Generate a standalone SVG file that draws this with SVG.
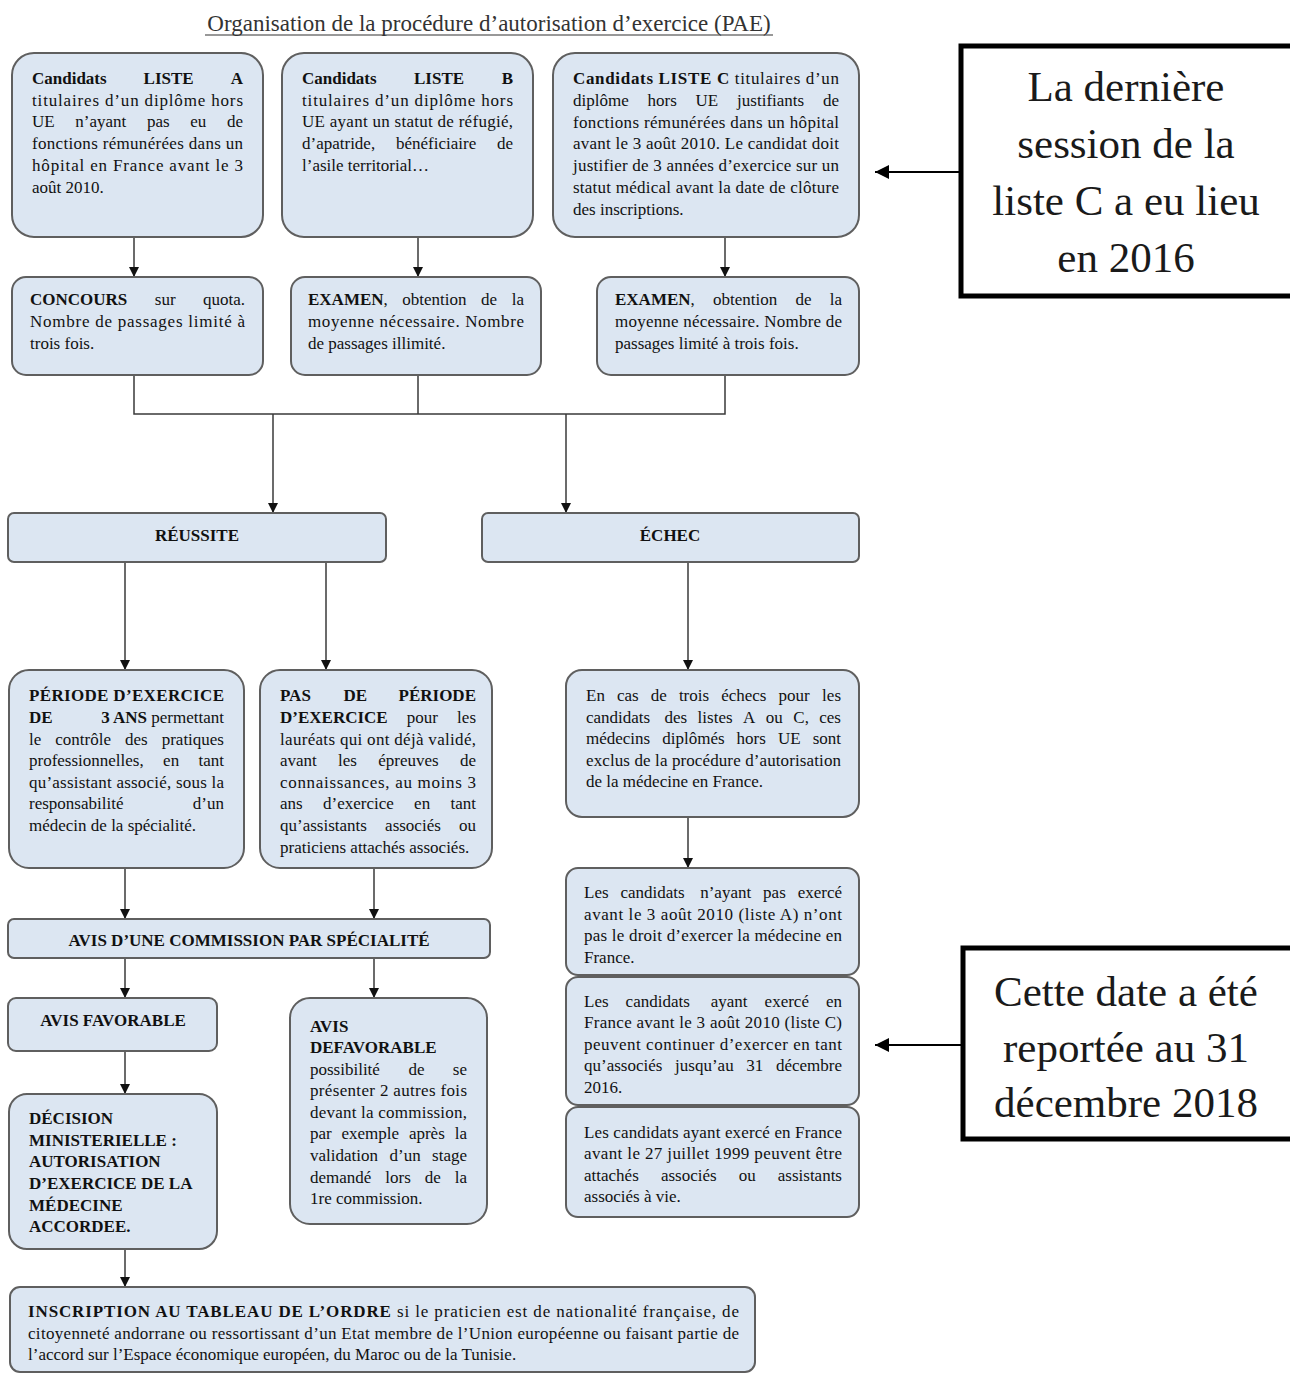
<svg xmlns="http://www.w3.org/2000/svg" width="1290" height="1374" viewBox="0 0 1290 1374">
<defs>
<style>
.box{fill:#dce6f2;stroke:#5f5f5f;stroke-width:2}
.t{font-family:"Liberation Serif","Times New Roman",serif;font-size:17px;fill:#111}
.b{font-weight:bold}
.c{text-anchor:middle}
.conn{stroke:#3a3a3a;stroke-width:1.5;fill:none}
.call{fill:#fff;stroke:#000;stroke-width:5}
.ct{font-family:"Liberation Serif","Times New Roman",serif;font-size:43px;fill:#1a1a1a;text-anchor:middle}
.carrow{stroke:#000;stroke-width:2;fill:none}
</style>
<marker id="ah" viewBox="0 0 10 10" refX="10" refY="5" markerWidth="10" markerHeight="12" markerUnits="userSpaceOnUse" orient="auto"><path d="M0,0 L10,5 L0,10 z" fill="#111"/></marker>
<marker id="ahc" viewBox="0 0 10 10" refX="10" refY="5" markerWidth="16" markerHeight="14" markerUnits="userSpaceOnUse" orient="auto"><path d="M0,0 L10,5 L0,10 z" fill="#000"/></marker>
</defs>
<rect width="1290" height="1374" fill="#fff"/>

<g id="title">
<text x="489" y="31" font-family="Liberation Serif, Times New Roman, serif" font-size="23" fill="#333" text-anchor="middle">Organisation de la procédure d’autorisation d’exercice (PAE)</text>
<line x1="205" y1="35" x2="773" y2="35" stroke="#333" stroke-width="1.2"/>
</g>

<g id="connectors">
<line class="conn" x1="134" y1="237" x2="134" y2="277" marker-end="url(#ah)"/>
<line class="conn" x1="418" y1="237" x2="418" y2="277" marker-end="url(#ah)"/>
<line class="conn" x1="725" y1="237" x2="725" y2="277" marker-end="url(#ah)"/>
<path class="conn" d="M134,375 V414 H725 V375 M418,375 V414"/>
<line class="conn" x1="273" y1="414" x2="273" y2="513" marker-end="url(#ah)"/>
<line class="conn" x1="566" y1="414" x2="566" y2="513" marker-end="url(#ah)"/>
<line class="conn" x1="125" y1="562" x2="125" y2="670" marker-end="url(#ah)"/>
<line class="conn" x1="326" y1="562" x2="326" y2="670" marker-end="url(#ah)"/>
<line class="conn" x1="688" y1="562" x2="688" y2="670" marker-end="url(#ah)"/>
<line class="conn" x1="688" y1="817" x2="688" y2="868" marker-end="url(#ah)"/>
<line class="conn" x1="125" y1="868" x2="125" y2="919" marker-end="url(#ah)"/>
<line class="conn" x1="374" y1="868" x2="374" y2="919" marker-end="url(#ah)"/>
<line class="conn" x1="125" y1="958" x2="125" y2="998" marker-end="url(#ah)"/>
<line class="conn" x1="374" y1="958" x2="374" y2="998" marker-end="url(#ah)"/>
<line class="conn" x1="125" y1="1051" x2="125" y2="1094" marker-end="url(#ah)"/>
<line class="conn" x1="125" y1="1249" x2="125" y2="1287" marker-end="url(#ah)"/>
<line class="carrow" x1="960" y1="172" x2="875" y2="172" marker-end="url(#ahc)"/>
<line class="carrow" x1="962" y1="1045" x2="875" y2="1045" marker-end="url(#ahc)"/>
</g>

<g id="listeA">
<rect class="box" x="12" y="53" width="251" height="184" rx="22"/>
<text class="t b" y="84"><tspan x="32">Candidats</tspan><tspan x="143.6">LISTE</tspan><tspan x="243" text-anchor="end">A</tspan></text>
<text class="t" x="32" y="106" textLength="211" lengthAdjust="spacing">titulaires d’un diplôme hors</text>
<text class="t" y="127"><tspan x="32">UE</tspan><tspan x="75.3">n’ayant</tspan><tspan x="147">pas</tspan><tspan x="190.3">eu</tspan><tspan x="243" text-anchor="end">de</tspan></text>
<text class="t" x="32" y="149" textLength="211" lengthAdjust="spacing">fonctions rémunérées dans un</text>
<text class="t" x="32" y="171" textLength="211" lengthAdjust="spacing">hôpital en France avant le 3</text>
<text class="t" x="32" y="193">août 2010.</text>
</g>

<g id="listeB">
<rect class="box" x="282" y="53" width="251" height="184" rx="22"/>
<text class="t b" y="84"><tspan x="302">Candidats</tspan><tspan x="414">LISTE</tspan><tspan x="513" text-anchor="end">B</tspan></text>
<text class="t" x="302" y="106" textLength="211" lengthAdjust="spacing">titulaires d’un diplôme hors</text>
<text class="t" x="302" y="127" textLength="211" lengthAdjust="spacing">UE ayant un statut de réfugié,</text>
<text class="t" y="149"><tspan x="302">d’apatride,</tspan><tspan x="396">bénéficiaire</tspan><tspan x="513" text-anchor="end">de</tspan></text>
<text class="t" x="302" y="171">l’asile territorial…</text>
</g>

<g id="listeC">
<rect class="box" x="553" y="53" width="306" height="184" rx="22"/>
<text class="t" x="573" y="84" textLength="266" lengthAdjust="spacing"><tspan class="b">Candidats LISTE C</tspan> titulaires d’un</text>
<text class="t" y="106"><tspan x="573">diplôme</tspan><tspan x="647.5">hors</tspan><tspan x="695.6">UE</tspan><tspan x="737.1">justifiants</tspan><tspan x="839" text-anchor="end">de</tspan></text>
<text class="t" x="573" y="128" textLength="266" lengthAdjust="spacing">fonctions rémunérées dans un hôpital</text>
<text class="t" x="573" y="149" textLength="266" lengthAdjust="spacing">avant le 3 août 2010. Le candidat doit</text>
<text class="t" x="573" y="171" textLength="266" lengthAdjust="spacing">justifier de 3 années d’exercice sur un</text>
<text class="t" x="573" y="193" textLength="266" lengthAdjust="spacing">statut médical avant la date de clôture</text>
<text class="t" x="573" y="215">des inscriptions.</text>
</g>

<g id="concours">
<rect class="box" x="12" y="277" width="251" height="98" rx="14"/>
<text class="t" y="305"><tspan x="30" class="b">CONCOURS</tspan><tspan x="154.8">sur</tspan><tspan x="245" text-anchor="end">quota.</tspan></text>
<text class="t" x="30" y="327" textLength="215" lengthAdjust="spacing">Nombre de passages limité à</text>
<text class="t" x="30" y="349">trois fois.</text>
</g>

<g id="examenB">
<rect class="box" x="291" y="277" width="250" height="98" rx="14"/>
<text class="t" y="305"><tspan x="308"><tspan class="b">EXAMEN</tspan>,</tspan><tspan x="402.3">obtention</tspan><tspan x="481.1">de</tspan><tspan x="524" text-anchor="end">la</tspan></text>
<text class="t" x="308" y="327" textLength="216" lengthAdjust="spacing">moyenne nécessaire. Nombre</text>
<text class="t" x="308" y="349">de passages illimité.</text>
</g>

<g id="examenC">
<rect class="box" x="597" y="277" width="262" height="98" rx="14"/>
<text class="t" y="305"><tspan x="615"><tspan class="b">EXAMEN</tspan>,</tspan><tspan x="713">obtention</tspan><tspan x="795.5">de</tspan><tspan x="842" text-anchor="end">la</tspan></text>
<text class="t" x="615" y="327" textLength="227" lengthAdjust="spacing">moyenne nécessaire. Nombre de</text>
<text class="t" x="615" y="349">passages limité à trois fois.</text>
</g>

<g id="reussite">
<rect class="box" x="8" y="513" width="378" height="49" rx="6"/>
<text class="t b c" x="197" y="541">RÉUSSITE</text>
</g>

<g id="echec">
<rect class="box" x="482" y="513" width="377" height="49" rx="6"/>
<text class="t b c" x="670" y="541">ÉCHEC</text>
</g>

<g id="periode">
<rect class="box" x="9" y="670" width="235" height="198" rx="20"/>
<text class="t b" x="29" y="701" textLength="195" lengthAdjust="spacing">PÉRIODE D’EXERCICE</text>
<text class="t" y="723"><tspan x="29" class="b">DE</tspan><tspan x="224" text-anchor="end"><tspan class="b">3 ANS</tspan> permettant</tspan></text>
<text class="t" y="745"><tspan x="29">le</tspan><tspan x="55.3">contrôle</tspan><tspan x="125">des</tspan><tspan x="224" text-anchor="end">pratiques</tspan></text>
<text class="t" y="766"><tspan x="29">professionnelles,</tspan><tspan x="163.1">en</tspan><tspan x="224" text-anchor="end">tant</tspan></text>
<text class="t" x="29" y="788" textLength="195" lengthAdjust="spacing">qu’assistant associé, sous la</text>
<text class="t" y="809"><tspan x="29">responsabilité</tspan><tspan x="224" text-anchor="end">d’un</tspan></text>
<text class="t" x="29" y="831">médecin de la spécialité.</text>
</g>

<g id="pasPeriode">
<rect class="box" x="260" y="670" width="232" height="198" rx="20"/>
<text class="t b" y="701"><tspan x="280">PAS</tspan><tspan x="343.5">DE</tspan><tspan x="476" text-anchor="end">PÉRIODE</tspan></text>
<text class="t" y="723"><tspan x="280" class="b">D’EXERCICE</tspan><tspan x="406.8">pour</tspan><tspan x="476" text-anchor="end">les</tspan></text>
<text class="t" x="280" y="745" textLength="196" lengthAdjust="spacing">lauréats qui ont déjà validé,</text>
<text class="t" y="766"><tspan x="280">avant</tspan><tspan x="338.1">les</tspan><tspan x="378.3">épreuves</tspan><tspan x="476" text-anchor="end">de</tspan></text>
<text class="t" x="280" y="788" textLength="196" lengthAdjust="spacing">connaissances, au moins 3</text>
<text class="t" y="809"><tspan x="280">ans</tspan><tspan x="323">d’exercice</tspan><tspan x="414.1">en</tspan><tspan x="476" text-anchor="end">tant</tspan></text>
<text class="t" y="831"><tspan x="280">qu’assistants</tspan><tspan x="385.1">associés</tspan><tspan x="476" text-anchor="end">ou</tspan></text>
<text class="t" x="280" y="853">praticiens attachés associés.</text>
</g>

<g id="enCas">
<rect class="box" x="566" y="670" width="293" height="147" rx="16"/>
<text class="t" y="701"><tspan x="586">En</tspan><tspan x="617">cas</tspan><tspan x="650.8">de</tspan><tspan x="678.9">trois</tspan><tspan x="721.2">échecs</tspan><tspan x="778.6">pour</tspan><tspan x="841" text-anchor="end">les</tspan></text>
<text class="t" y="723"><tspan x="586">candidats</tspan><tspan x="664.5">des</tspan><tspan x="697.6">listes</tspan><tspan x="743.1">A</tspan><tspan x="765.8">ou</tspan><tspan x="793.3">C,</tspan><tspan x="841" text-anchor="end">ces</tspan></text>
<text class="t" y="744"><tspan x="586">médecins</tspan><tspan x="662.3">diplômés</tspan><tspan x="736.6">hors</tspan><tspan x="778">UE</tspan><tspan x="841" text-anchor="end">sont</tspan></text>
<text class="t" x="586" y="766" textLength="255" lengthAdjust="spacing">exclus de la procédure d’autorisation</text>
<text class="t" x="586" y="787">de la médecine en France.</text>
</g>

<g id="listeAexclus">
<rect class="box" x="566" y="868" width="293" height="107" rx="12"/>
<text class="t" y="898"><tspan x="584">Les</tspan><tspan x="620.4">candidats</tspan><tspan x="700.2">n’ayant</tspan><tspan x="763.1">pas</tspan><tspan x="842" text-anchor="end">exercé</tspan></text>
<text class="t" x="584" y="920" textLength="258" lengthAdjust="spacing">avant le 3 août 2010 (liste A) n’ont</text>
<text class="t" x="584" y="941" textLength="258" lengthAdjust="spacing">pas le droit d’exercer la médecine en</text>
<text class="t" x="584" y="963">France.</text>
</g>

<g id="listeCcontinuer">
<rect class="box" x="566" y="977" width="293" height="128" rx="12"/>
<text class="t" y="1007"><tspan x="584">Les</tspan><tspan x="625.6">candidats</tspan><tspan x="710.7">ayant</tspan><tspan x="764.6">exercé</tspan><tspan x="842" text-anchor="end">en</tspan></text>
<text class="t" x="584" y="1028" textLength="258" lengthAdjust="spacing">France avant le 3 août 2010 (liste C)</text>
<text class="t" x="584" y="1050" textLength="258" lengthAdjust="spacing">peuvent continuer d’exercer en tant</text>
<text class="t" y="1071"><tspan x="584">qu’associés</tspan><tspan x="675.1">jusqu’au</tspan><tspan x="746.3">31</tspan><tspan x="842" text-anchor="end">décembre</tspan></text>
<text class="t" x="584" y="1093">2016.</text>
</g>

<g id="avant1999">
<rect class="box" x="566" y="1107" width="293" height="110" rx="12"/>
<text class="t" x="584" y="1138" textLength="258" lengthAdjust="spacing">Les candidats ayant exercé en France</text>
<text class="t" x="584" y="1159" textLength="258" lengthAdjust="spacing">avant le 27 juillet 1999 peuvent être</text>
<text class="t" y="1181"><tspan x="584">attachés</tspan><tspan x="660.9">associés</tspan><tspan x="738.7">ou</tspan><tspan x="842" text-anchor="end">assistants</tspan></text>
<text class="t" x="584" y="1202">associés à vie.</text>
</g>

<g id="commission">
<rect class="box" x="8" y="919" width="482" height="39" rx="6"/>
<text class="t b c" x="249" y="946">AVIS D’UNE COMMISSION PAR SPÉCIALITÉ</text>
</g>

<g id="avisFavorable">
<rect class="box" x="8" y="998" width="209" height="53" rx="8"/>
<text class="t b c" x="113" y="1026">AVIS FAVORABLE</text>
</g>

<g id="avisDefavorable">
<rect class="box" x="290" y="998" width="197" height="226" rx="20"/>
<text class="t b" x="310" y="1032">AVIS</text>
<text class="t b" x="310" y="1053">DEFAVORABLE</text>
<text class="t" y="1075"><tspan x="310">possibilité</tspan><tspan x="408.4">de</tspan><tspan x="467" text-anchor="end">se</tspan></text>
<text class="t" x="310" y="1096" textLength="157" lengthAdjust="spacing">présenter 2 autres fois</text>
<text class="t" x="310" y="1118" textLength="157" lengthAdjust="spacing">devant la commission,</text>
<text class="t" y="1139"><tspan x="310">par</tspan><tspan x="341.5">exemple</tspan><tspan x="408.9">après</tspan><tspan x="467" text-anchor="end">la</tspan></text>
<text class="t" y="1161"><tspan x="310">validation</tspan><tspan x="389.5">d’un</tspan><tspan x="467" text-anchor="end">stage</tspan></text>
<text class="t" y="1183"><tspan x="310">demandé</tspan><tspan x="385.3">lors</tspan><tspan x="424.7">de</tspan><tspan x="467" text-anchor="end">la</tspan></text>
<text class="t" x="310" y="1204">1re commission.</text>
</g>

<g id="decision">
<rect class="box" x="9" y="1094" width="208" height="155" rx="18"/>
<text class="t b" x="29" y="1124">DÉCISION</text>
<text class="t b" x="29" y="1146">MINISTERIELLE :</text>
<text class="t b" x="29" y="1167">AUTORISATION</text>
<text class="t b" x="29" y="1189">D’EXERCICE DE LA</text>
<text class="t b" x="29" y="1211">MÉDECINE</text>
<text class="t b" x="29" y="1232">ACCORDEE.</text>
</g>

<g id="inscription">
<rect class="box" x="10" y="1287" width="745" height="85" rx="10"/>
<text class="t" x="28" y="1317" textLength="711" lengthAdjust="spacing"><tspan class="b">INSCRIPTION AU TABLEAU DE L’ORDRE</tspan> si le praticien est de nationalité française, de</text>
<text class="t" x="28" y="1339" textLength="711" lengthAdjust="spacing">citoyenneté andorrane ou ressortissant d’un Etat membre de l’Union européenne ou faisant partie de</text>
<text class="t" x="28" y="1360">l’accord sur l’Espace économique européen, du Maroc ou de la Tunisie.</text>
</g>

<g id="note2016">
<rect class="call" x="961" y="46" width="360" height="250"/>
<text class="ct" x="1126" y="101">La dernière</text>
<text class="ct" x="1126" y="158">session de la</text>
<text class="ct" x="1126" y="215">liste C a eu lieu</text>
<text class="ct" x="1126" y="272">en 2016</text>
</g>

<g id="note2018">
<rect class="call" x="963" y="948" width="360" height="191"/>
<text class="ct" x="1126" y="1006">Cette date a été</text>
<text class="ct" x="1126" y="1062">reportée au 31</text>
<text class="ct" x="1126" y="1117">décembre 2018</text>
</g>
</svg>
